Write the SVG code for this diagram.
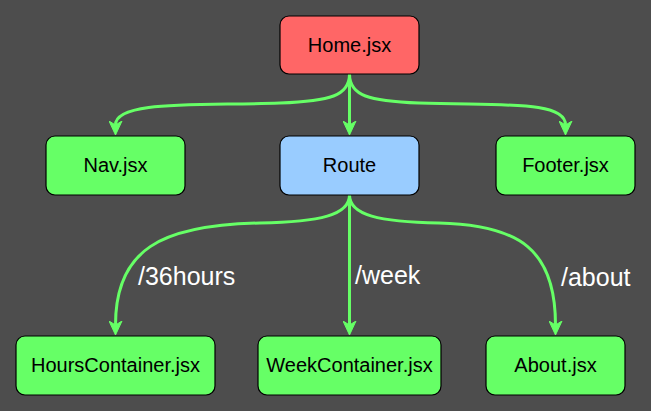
<svg xmlns="http://www.w3.org/2000/svg" width="651" height="411" viewBox="0 0 651 411">
  <style>
    .box { stroke: #000000; stroke-width: 1.2; }
    .green { fill: #66ff66; }
    .red { fill: #ff6666; }
    .blue { fill: #99ccff; }
    .label { font-family: "Liberation Sans", Arial, sans-serif; font-size: 20px; fill: #000000; text-anchor: middle; }
    .edge { fill: none; stroke: #66ff66; stroke-width: 3; marker-end: url(#arrow); }
    .route { font-family: "Liberation Sans", Arial, sans-serif; font-size: 25px; fill: #ffffff; }
  </style>
  <defs>
    <marker id="arrow" markerUnits="userSpaceOnUse" viewBox="0 0 14 14" markerWidth="14" markerHeight="14" refX="4" refY="7" orient="auto">
      <path d="M14,7 L0,0.5 L4,7 L0,13.5 Z" fill="#66ff66" stroke="#66ff66" stroke-width="1" stroke-linejoin="miter"/>
    </marker>
  </defs>

  <rect x="0" y="0" width="651" height="411" fill="#4d4d4d"/>

  <g id="connectors">
    <path class="edge" d="M349.5,74 C349.5,96 330,101 280,103 C200,106 115.5,100 115.5,125"/>
    <path class="edge" d="M349.5,74 L349.5,125"/>
    <path class="edge" d="M349.5,74 C349.5,96 369,101 419,103 C500,106 565.5,100 565.5,125"/>
    <path class="edge" d="M349.5,195 C349.5,215 320,222 260,223 C160,225 115.5,250 115.5,325"/>
    <path class="edge" d="M349.5,195 L349.5,325"/>
    <path class="edge" d="M349.5,195 C349.5,215 379,222 439,223 C520,225 555.5,250 555.5,325"/>
    <text class="route" x="138" y="285">/36hours</text>
    <text class="route" x="355" y="284">/week</text>
    <text class="route" x="561" y="286">/about</text>
  </g>

  <g id="home">
    <rect class="box red" x="280" y="16" width="139" height="58" rx="9"/>
    <text class="label" x="349.5" y="52">Home.jsx</text>
  </g>
  <g id="nav">
    <rect class="box green" x="46" y="136" width="139" height="59" rx="9"/>
    <text class="label" x="115.5" y="172">Nav.jsx</text>
  </g>
  <g id="route">
    <rect class="box blue" x="280" y="136" width="139" height="59" rx="9"/>
    <text class="label" x="349.5" y="172">Route</text>
  </g>
  <g id="footer">
    <rect class="box green" x="496" y="136" width="139" height="59" rx="9"/>
    <text class="label" x="565.5" y="172">Footer.jsx</text>
  </g>
  <g id="hours-container">
    <rect class="box green" x="16" y="336" width="199" height="59" rx="9"/>
    <text class="label" x="115.5" y="372">HoursContainer.jsx</text>
  </g>
  <g id="week-container">
    <rect class="box green" x="258" y="336" width="183" height="59" rx="9"/>
    <text class="label" x="349.5" y="372">WeekContainer.jsx</text>
  </g>
  <g id="about">
    <rect class="box green" x="486" y="336" width="139" height="59" rx="9"/>
    <text class="label" x="555.5" y="372">About.jsx</text>
  </g>
</svg>
